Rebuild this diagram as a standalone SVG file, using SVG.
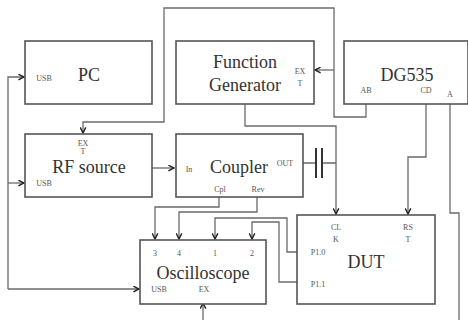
<svg xmlns="http://www.w3.org/2000/svg" width="468" height="320" viewBox="0 0 468 320">
<defs>
<marker id="ah" viewBox="0 0 10 10" refX="9" refY="5" markerWidth="7" markerHeight="7" orient="auto" markerUnits="userSpaceOnUse">
<path d="M1,1 L9,5 L1,9" fill="none" stroke="#222" stroke-width="2"/>
</marker>
<style>
.box{fill:#fff;stroke:#555;stroke-width:1.6}
.w{fill:none;stroke:#6a6a6a;stroke-width:1.3}
.t{font-family:"Liberation Serif",serif;fill:#333;text-anchor:middle}
.big{font-size:18px}
.sm{font-size:8px;fill:#555}
</style>
</defs>
<rect width="468" height="320" fill="#fff"/>
<g id="connectors">
<path class="w" d="M366,104 V117 H334 V8 H164 V122 H83 V133" marker-end="url(#ah)"/>
<path class="w" d="M334,70 H315" marker-end="url(#ah)"/>
<path class="w" d="M245,104 V126 H336 V214" marker-end="url(#ah)"/>
<path class="w" d="M426,104 V157 H408 V214" marker-end="url(#ah)"/>
<path class="w" d="M450,104 V213 H459 V320"/>
<path class="w" d="M8,289 V77 H24" marker-end="url(#ah)"/>
<path class="w" d="M8,183 H24" marker-end="url(#ah)"/>
<path class="w" d="M8,289 H139" marker-end="url(#ah)"/>
<path class="w" d="M152,168 H174" marker-end="url(#ah)"/>
<path class="w" d="M303,163 H316 M322,163 H336"/>
<path d="M316,148 V178 M322,148 V178" fill="none" stroke="#333" stroke-width="2"/>
<path class="w" d="M219,197 V207 H155 V239" marker-end="url(#ah)"/>
<path class="w" d="M257,197 V212 H179 V239" marker-end="url(#ah)"/>
<path class="w" d="M297,252 H287 V218 H215 V239" marker-end="url(#ah)"/>
<path class="w" d="M297,282 H279 V222 H252 V239" marker-end="url(#ah)"/>
<path class="w" d="M203,320 V303" marker-end="url(#ah)"/>
</g>
<g id="pc">
<rect class="box" x="25" y="41" width="127" height="63"/>
<text class="t sm" x="44" y="81">USB</text>
<text class="t big" x="89" y="81">PC</text>
</g>
<g id="function-generator">
<rect class="box" x="176" y="41" width="138" height="63"/>
<text class="t big" x="245" y="68">Function</text>
<text class="t big" x="245" y="91">Generator</text>
<text class="t sm" x="300" y="74">EX</text>
<text class="t sm" x="300" y="86">T</text>
</g>
<g id="dg535">
<rect class="box" x="344" y="41" width="124" height="63"/>
<text class="t big" x="407" y="81">DG535</text>
<text class="t sm" x="366" y="93">AB</text>
<text class="t sm" x="426" y="93">CD</text>
<text class="t sm" x="450" y="97">A</text>
</g>
<g id="rf-source">
<rect class="box" x="25" y="134" width="127" height="63"/>
<text class="t sm" x="83" y="146">EX</text>
<text class="t sm" x="83" y="154">T</text>
<text class="t big" x="89" y="173">RF source</text>
<text class="t sm" x="44" y="186">USB</text>
</g>
<g id="coupler">
<rect class="box" x="176" y="134" width="127" height="63"/>
<text class="t sm" x="189" y="172">In</text>
<text class="t big" x="239" y="173">Coupler</text>
<text class="t sm" x="285" y="166">OUT</text>
<text class="t sm" x="220" y="192">Cpl</text>
<text class="t sm" x="258" y="192">Rev</text>
</g>
<g id="oscilloscope">
<rect class="box" x="140" y="240" width="126" height="64"/>
<text class="t sm" x="155" y="256">3</text>
<text class="t sm" x="179" y="256">4</text>
<text class="t sm" x="215" y="256">1</text>
<text class="t sm" x="252" y="256">2</text>
<text class="t big" x="203" y="279">Oscilloscope</text>
<text class="t sm" x="159" y="292">USB</text>
<text class="t sm" x="204" y="292">EX</text>
</g>
<g id="dut">
<rect class="box" x="297" y="215" width="138" height="89"/>
<text class="t sm" x="336" y="230">CL</text>
<text class="t sm" x="336" y="242">K</text>
<text class="t sm" x="408" y="230">RS</text>
<text class="t sm" x="408" y="242">T</text>
<text class="t big" x="366" y="268">DUT</text>
<text class="t sm" x="318" y="255">P1.0</text>
<text class="t sm" x="318" y="287">P1.1</text>
</g>
</svg>
